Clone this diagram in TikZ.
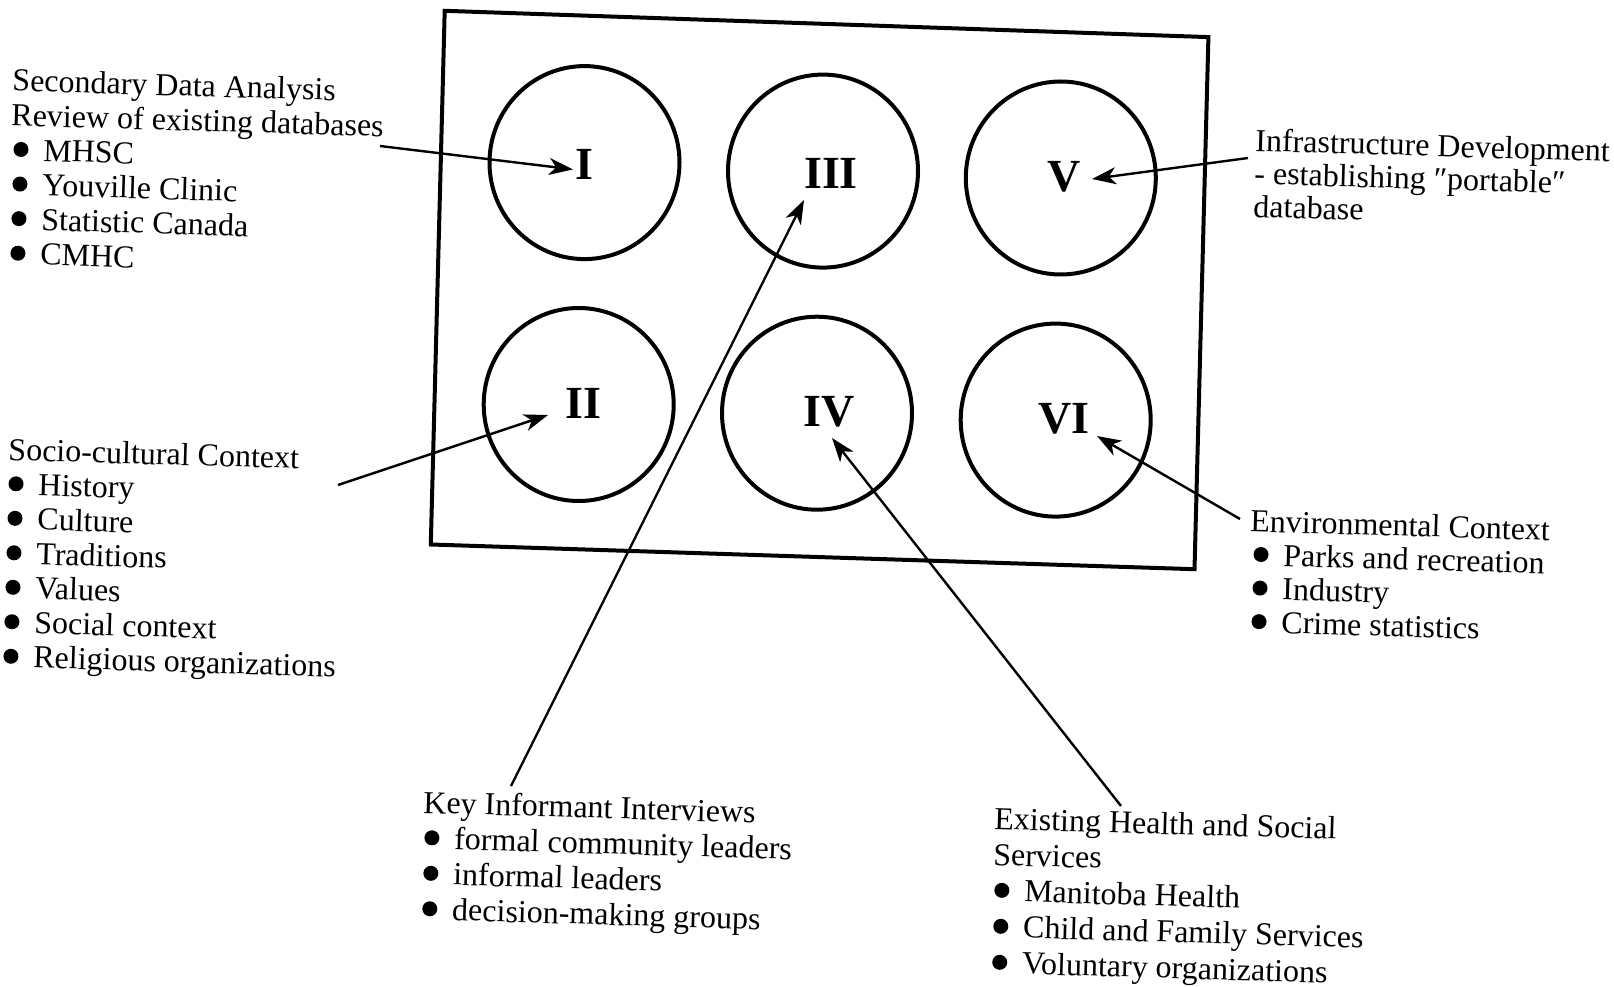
\documentclass[tikz,border=0pt]{standalone}
\usepackage{fontspec}
\setmainfont{Liberation Serif}
\usetikzlibrary{arrows.meta,calc,shapes.geometric}

% filled round bullet; optional argument is the indent before it
\newcommand{\bul}[1][3pt]{\hspace*{#1}\raisebox{3.5pt}{\tikz\fill (0pt,0pt) circle (7.5pt);}\hspace{15pt}}

\tikzset{
  txt/.style={anchor=base west, align=left, inner sep=0pt, rotate=-1.7,
    font=\fontsize{32}{#1}\selectfont},
  ring/.style={draw, line width=4pt, ellipse, minimum width=190pt,
    minimum height=193pt, inner sep=0pt},
  numeral/.style={font=\fontsize{46}{46}\selectfont\bfseries, inner sep=0pt},
  conn/.style={line width=2.4pt, -{Stealth[length=24pt,width=17pt,inset=7pt]}},
}

\begin{document}
\begin{tikzpicture}[x=1pt,y=-1pt]
\useasboundingbox (0,0) rectangle (1614,987);

% outer frame (slightly skewed)
\draw[line width=4pt, line join=miter]
  (444.7,10.8) -- (1208.4,37.1) -- (1194.5,569.2) -- (430.8,544.5) -- cycle;

% the six numbered rings
\node[ring] (cI)   at (584.5,162.6) {};
\node[ring] (cIII) at (823.0,171.1) {};
\node[ring] (cV)   at (1060.8,178.0) {};
\node[ring] (cII)  at (578.7,404.5) {};
\node[ring] (cIV)  at (817.0,413.2) {};
\node[ring] (cVI)  at (1055.7,420.1) {};

\node[numeral] (nI)   at (584.5,164.0) {I};
\node[numeral] (nIII) at (831.0,173.0) {III};
\node[numeral] (nV)   at (1064.0,177.0) {V};
\node[numeral] (nII)  at (583.0,403.6) {II};
\node[numeral] (nIV)  at (829.0,411.4) {IV};
\node[numeral] (nVI)  at (1064.0,419.0) {VI};

% text blocks (each anchored at the baseline of its last line)
\node[txt=34.6] (sec) at (6.9,263.9) {Secondary Data Analysis\\Review of existing databases\\
  \bul MHSC\\\bul Youville Clinic\\\bul Statistic Canada\\\bul CMHC};
\node[txt=34.5] (soc) at (1.9,667.0) {Socio-cultural Context\\\bul[1pt]History\\\bul[1pt]Culture\\
  \bul[1pt]Traditions\\\bul[1pt]Values\\\bul[1pt]Social context\\\bul[1pt]Religious organizations};
\node[txt=33] (inf) at (1253.0,217.0) {Infrastructure Development\\- establishing ″portable″\\database};
\node[txt=33.6] (env) at (1247.0,632.3) {Environmental Context\\\bul[4pt]Parks and recreation\\
  \bul[4pt]Industry\\\bul[4pt]Crime statistics};
\node[txt=35.5] (key) at (419.8,919.5) {Key Informant Interviews\\\bul[2pt]formal community leaders\\
  \bul[2pt]informal leaders\\\bul[2pt]decision-making groups};
\node[txt=36] (ehs) at (989.7,973.0) {Existing Health and Social\\Services\\\bul[2pt]Manitoba Health\\
  \bul[2pt]Child and Family Services\\\bul[2pt]Voluntary organizations};

% tails of the connectors, next to their text blocks
\coordinate (tsec) at (380,146);
\coordinate (tsoc) at (338,485);
\coordinate (tkey) at (511,786);
\coordinate (tinf) at (1248,158);
\coordinate (tehs) at (1121,806);
\coordinate (tenv) at (1240,519);

% connectors
\draw[conn] (tsec) -- ($(nI)+(-11.5,5.4)$);
\draw[conn] (tsoc) -- ($(nII)+(-35,11.4)$);
\draw[conn] (tkey) -- ($(nIII)+(-27,27)$);
\draw[conn] (tinf) -- ($(nV)+(28,2)$);
\draw[conn] (tehs) -- ($(nIV)+(3,26.6)$);
\draw[conn] (tenv) -- ($(nVI)+(33,17)$);
\end{tikzpicture}
\end{document}
